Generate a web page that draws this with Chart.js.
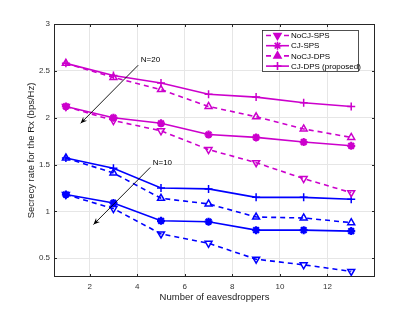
<!DOCTYPE html>
<html><head><meta charset="utf-8">
<script src="https://cdn.jsdelivr.net/npm/chart.js@4/dist/chart.umd.min.js"></script>
<style>html,body{margin:0;padding:0;background:#fff}#wrap{width:415px;height:312px}</style>
</head><body><div id="wrap"><canvas id="c" width="415" height="312"></canvas></div>
<script>
const xValues = [1, 3, 5, 7, 9, 11, 13];
const xTicks = [2, 4, 6, 8, 10, 12];
const yTicks = [0.5, 1, 1.5, 2, 2.5, 3];
const seriesNames = ['NoCJ-SPS', 'CJ-SPS', 'NoCJ-DPS', 'CJ-DPS (proposed)'];
// N = 20 (magenta)
const n20NoCJSPS = [2.12, 1.97, 1.86, 1.66, 1.52, 1.35, 1.20];
const n20CJSPS   = [2.12, 2.00, 1.94, 1.82, 1.79, 1.74, 1.70];
const n20NoCJDPS = [2.58, 2.43, 2.30, 2.12, 2.01, 1.88, 1.79];
const n20CJDPS   = [2.58, 2.45, 2.37, 2.25, 2.22, 2.16, 2.12];
// N = 10 (blue)
const n10NoCJSPS = [1.18, 1.03, 0.76, 0.66, 0.49, 0.43, 0.36];
const n10CJSPS   = [1.18, 1.09, 0.90, 0.89, 0.80, 0.80, 0.79];
const n10NoCJDPS = [1.57, 1.41, 1.14, 1.08, 0.94, 0.93, 0.88];
const n10CJDPS   = [1.57, 1.46, 1.25, 1.24, 1.15, 1.15, 1.13];

const MAG = '#cc00cc', BLUE = '#0000ff';
const styles = [
  {dash:[5,4], point:'triangle', rot:180, fill:false},
  {dash:[], point:'star', rot:0, fill:true},
  {dash:[5,4], point:'triangle', rot:0, fill:false},
  {dash:[], point:'cross', rot:0, fill:false}
];
function mk(vals, idx, color, label){
  const s = styles[idx];
  return {
    label: label,
    data: xValues.map((x,i)=>({x:x, y:vals[i]})),
    borderColor: color, backgroundColor: s.fill ? color : 'rgba(0,0,0,0)',
    borderWidth: 1.6, borderDash: s.dash,
    pointStyle: s.point, rotation: s.rot, pointRadius: 4,
    pointBorderWidth: s.point==='star' ? 2.2 : 1.5,
    pointBorderColor: color, pointBackgroundColor: s.fill ? color : 'rgba(0,0,0,0)',
    tension: 0, fill: false
  };
}
const datasets = [
  mk(n20NoCJSPS,0,MAG,seriesNames[0]), mk(n20CJSPS,1,MAG,seriesNames[1]),
  mk(n20NoCJDPS,2,MAG,seriesNames[2]), mk(n20CJDPS,3,MAG,seriesNames[3]),
  mk(n10NoCJSPS,0,BLUE,'N10 '+seriesNames[0]), mk(n10CJSPS,1,BLUE,'N10 '+seriesNames[1]),
  mk(n10NoCJDPS,2,BLUE,'N10 '+seriesNames[2]), mk(n10CJDPS,3,BLUE,'N10 '+seriesNames[3])
];

const FONT = '"Liberation Sans", Arial, sans-serif';

const annotations = [
  {text:'N=20', tx:4.15, ty:2.62, x1:4.04, y1:2.56, x2:1.62, y2:1.94},
  {text:'N=10', tx:4.65, ty:1.52, x1:4.55, y1:1.47, x2:2.16, y2:0.86}
];

const extras = {
  id:'extras',
  afterDatasetsDraw(chart){
    const ctx = chart.ctx, xs = chart.scales.x, ys = chart.scales.y, a = chart.chartArea;
    ctx.save();
    ctx.strokeStyle = '#262626'; ctx.lineWidth = 1;
    ctx.strokeRect(a.left+0.5, a.top+0.5, a.right-a.left-1, a.bottom-a.top-1);
    ctx.beginPath();
    xTicks.forEach(t=>{const p=Math.round(xs.getPixelForValue(t))+0.5;
      ctx.moveTo(p,a.bottom); ctx.lineTo(p,a.bottom-3); ctx.moveTo(p,a.top); ctx.lineTo(p,a.top+3);});
    yTicks.forEach(t=>{const p=Math.round(ys.getPixelForValue(t))+0.5;
      ctx.moveTo(a.left,p); ctx.lineTo(a.left+3,p); ctx.moveTo(a.right,p); ctx.lineTo(a.right-3,p);});
    ctx.stroke();
    ctx.font = '8px '+FONT; ctx.fillStyle='#000'; ctx.strokeStyle='#000'; ctx.lineWidth=0.9;
    annotations.forEach(an=>{
      const x1=xs.getPixelForValue(an.x1), y1=ys.getPixelForValue(an.y1);
      const x2=xs.getPixelForValue(an.x2), y2=ys.getPixelForValue(an.y2);
      ctx.beginPath(); ctx.moveTo(x1,y1); ctx.lineTo(x2,y2); ctx.stroke();
      const ang=Math.atan2(y2-y1,x2-x1), L=7, w=0.4;
      ctx.beginPath(); ctx.moveTo(x2,y2);
      ctx.lineTo(x2-L*Math.cos(ang-w), y2-L*Math.sin(ang-w));
      ctx.lineTo(x2-L*0.6*Math.cos(ang), y2-L*0.6*Math.sin(ang));
      ctx.lineTo(x2-L*Math.cos(ang+w), y2-L*Math.sin(ang+w));
      ctx.closePath(); ctx.fill();
      ctx.textAlign='left'; ctx.textBaseline='middle';
      ctx.fillText(an.text, xs.getPixelForValue(an.tx), ys.getPixelForValue(an.ty));
    });
    const lx=a.right-113, ly=a.top+6, lw=96, lh=41;
    ctx.fillStyle='#fff'; ctx.fillRect(lx,ly,lw,lh);
    ctx.strokeStyle='#262626'; ctx.lineWidth=0.8; ctx.strokeRect(lx+0.5,ly+0.5,lw,lh);
    for(let i=0;i<4;i++){
      const ds = datasets[i];
      const yy = ly+5.5+i*10.2, x0=lx+4, x1=lx+27;
      ctx.strokeStyle=MAG; ctx.lineWidth=1.6; ctx.setLineDash(ds.borderDash);
      ctx.beginPath(); ctx.moveTo(x0,yy); ctx.lineTo(x1,yy); ctx.stroke();
      ctx.setLineDash([]);
      Chart.helpers.drawPoint(ctx, {pointStyle:ds.pointStyle, rotation:ds.rotation, radius:4, borderWidth:ds.pointBorderWidth}, (x0+x1)/2, yy);
      ctx.fillStyle=MAG;
      if(ds.pointStyle==='triangle'){ctx.fill();}
      ctx.fillStyle='#000'; ctx.font='8px '+FONT; ctx.textAlign='left'; ctx.textBaseline='middle';
      ctx.fillText(seriesNames[i], x1+2, yy+0.5);
    }
    ctx.restore();
  }
};

new Chart(document.getElementById('c'), {
  type:'line',
  data:{datasets},
  plugins:[extras],
  options:{
    responsive:false, animation:false, devicePixelRatio:1,
    layout:{padding:{top:24,right:40,left:26,bottom:9}},
    plugins:{legend:{display:false}, tooltip:{enabled:false}},
    scales:{
      x:{type:'linear', min:0.5, max:14,
        afterBuildTicks(s){s.ticks = xTicks.map(v=>({value:v}));},
        afterFit(s){s.height=26;},
        grid:{color:'#e6e6e6', drawTicks:false}, border:{display:false},
        ticks:{color:'#333', font:{family:FONT,size:8}, padding:5, maxRotation:0},
        title:{display:true, text:'Number of eavesdroppers', color:'#222', font:{family:FONT,size:9.5}, padding:{top:1,bottom:0}}
      },
      y:{type:'linear', min:0.3, max:3,
        afterBuildTicks(s){s.ticks = yTicks.map(v=>({value:v}));},
        afterFit(s){s.width=28;},
        grid:{color:'#e6e6e6', drawTicks:false}, border:{display:false},
        ticks:{color:'#333', font:{family:FONT,size:8}, padding:4, callback:v=>String(v)},
        title:{display:true, text:'Secrecy rate for the Rx (bps/Hz)', color:'#222', font:{family:FONT,size:9.5}, padding:{top:0,bottom:0}}
      }
    }
  }
});
</script></body></html>
